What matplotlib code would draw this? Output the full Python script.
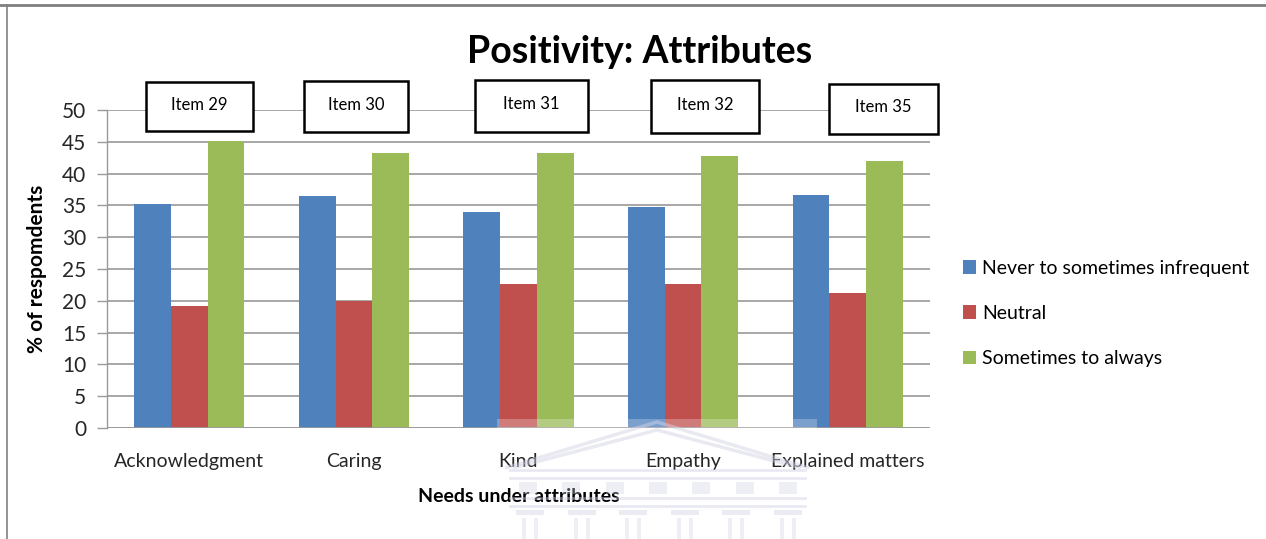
import matplotlib
matplotlib.use("Agg")
import matplotlib.pyplot as plt
from matplotlib import font_manager
from matplotlib.patches import Rectangle, Polygon
import numpy as np

# Survey data: share of respondents per response group
categories = ["Acknowledgment", "Caring", "Kind", "Empathy", "Explained matters"]
items = ["Item 29", "Item 30", "Item 31", "Item 32", "Item 35"]
series_names = ["Never to sometimes infrequent", "Neutral", "Sometimes to always"]
never_vals = [35.2, 36.5, 33.9, 34.7, 36.7]
neutral_vals = [19.2, 19.9, 22.6, 22.6, 21.3]
always_vals = [45.2, 43.3, 43.3, 42.8, 42.0]
y_ticks = [0, 5, 10, 15, 20, 25, 30, 35, 40, 45, 50]

colors = ["#4F81BD", "#C0504D", "#9BBB59"]

available = {f.name for f in font_manager.fontManager.ttflist}
family = "Liberation Sans Narrow" if "Liberation Sans Narrow" in available else "Lato"
plt.rcParams["font.family"] = [family, "DejaVu Sans"]

W, H = 1266, 539
fig = plt.figure(figsize=(W / 100, H / 100), dpi=100)
fig.patch.set_facecolor("white")


def fx(px):
    return px / W


def fy(py):
    return 1 - py / H


ax = fig.add_axes([fx(107), fy(428), fx(930) - fx(107), fy(110) - fy(428)])

x = np.arange(len(categories))
bw = 0.223
for i, (vals, name) in enumerate(zip([never_vals, neutral_vals, always_vals], series_names)):
    ax.bar(x + (i - 1) * bw, vals, width=bw, color=colors[i], label=name, zorder=3)

ax.set_xlim(-0.5, len(categories) - 0.5)
ax.set_ylim(0, 50)
ax.set_yticks(y_ticks)
ax.set_yticklabels([str(t) for t in y_ticks], fontsize=15, color="#262626")
ax.set_xticks(x)
ax.set_xticklabels(categories, fontsize=14, color="#262626")
ax.tick_params(axis="x", length=0, pad=18)
ax.tick_params(axis="y", length=7, width=1, color="#9a9a9a", pad=8)
ax.grid(axis="y", color="#a0a0a0", linewidth=1.3, zorder=0)
for side in ["top", "right", "bottom"]:
    ax.spines[side].set_visible(False)
ax.spines["left"].set_color("#9a9a9a")
ax.spines["left"].set_linewidth(1)
ax.axhline(0, color="#9a9a9a", linewidth=1.3, zorder=4)

ax.set_ylabel("% of respomdents", fontsize=15, fontweight="bold")
ax.yaxis.set_label_coords(-(107 - 47) / (930 - 107), 0.5)
ax.set_xlabel("Needs under attributes", fontsize=14, fontweight="bold")
ax.xaxis.set_label_coords((519 - 107) / (930 - 107), -(497 - 428) / (428 - 110))
ax.xaxis.label.set_va("center")

fig.text(fx(640), fy(52), "Positivity: Attributes", fontsize=27, fontweight="bold",
         ha="center", va="center", color="black")

# Item callout boxes above each category
box_layout = [(146, 82, 253, 131), (304, 81, 408, 132), (475, 80, 588, 132),
              (651, 80, 759, 133), (829, 84, 938, 134)]
for label, (x0, y0, x1, y1) in zip(items, box_layout):
    fig.add_artist(Rectangle((fx(x0), fy(y1)), fx(x1) - fx(x0), fy(y0) - fy(y1),
                             transform=fig.transFigure, facecolor="white",
                             edgecolor="black", linewidth=1.8, zorder=5))
    fig.text(fx((x0 + x1) / 2), fy((y0 + y1) / 2 - 2), label, fontsize=12,
             ha="center", va="center", zorder=6)

# Legend
leg = fig.legend(loc="upper left", bbox_to_anchor=(fx(955), fy(252)), frameon=False,
                 fontsize=14, handlelength=0.7, handleheight=0.7, handletextpad=0.3,
                 labelspacing=1.45, borderaxespad=0)

# Frame lines
fig.add_artist(plt.Line2D([0, 1], [fy(5), fy(5)], transform=fig.transFigure,
                          color="#808080", linewidth=2))
fig.add_artist(plt.Line2D([fx(7.5), fx(7.5)], [0, fy(5)], transform=fig.transFigure,
                          color="#808080", linewidth=1.2))

# Faint building emblem near the bottom
wm = "#cfcfe3"
band = Rectangle((fx(497), fy(428)), fx(817) - fx(497), fy(419) - fy(428),
                 transform=fig.transFigure, facecolor="white", alpha=0.25,
                 edgecolor="none", zorder=10)
fig.add_artist(band)
for off in (0, 8):
    tri = Polygon([[fx(505 + off), fy(468)], [fx(657), fy(422 + off)], [fx(809 - off), fy(468)]],
                  closed=False, transform=fig.transFigure, fill=False,
                  edgecolor=wm, linewidth=2.5, alpha=0.45, zorder=1)
    fig.add_artist(tri)
for yy in (470, 478, 498, 506):
    fig.add_artist(plt.Line2D([fx(510), fx(805)], [fy(yy), fy(yy)], transform=fig.transFigure,
                              color=wm, linewidth=2, alpha=0.45, zorder=1))
for cx in np.linspace(528, 788, 7):
    fig.add_artist(Rectangle((fx(cx - 9), fy(494)), fx(18), fy(482) - fy(494),
                             transform=fig.transFigure, facecolor=wm, alpha=0.35,
                             edgecolor="none", zorder=1))
for cx in np.linspace(530, 788, 6):
    fig.add_artist(Rectangle((fx(cx - 14), fy(515)), fx(28), fy(510) - fy(515),
                             transform=fig.transFigure, facecolor=wm, alpha=0.4,
                             edgecolor="none", zorder=1))
    for dx in (-8, 4):
        fig.add_artist(Rectangle((fx(cx + dx), 0), fx(4), fy(518),
                                 transform=fig.transFigure, facecolor=wm, alpha=0.35,
                                 edgecolor="none", zorder=1))

fig.savefig("out.png", dpi=100, facecolor="white")
